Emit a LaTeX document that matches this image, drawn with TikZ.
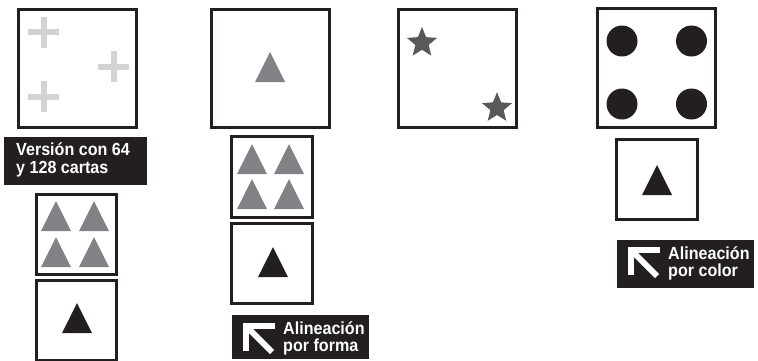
\documentclass[tikz,border=0pt]{standalone}
\usepackage{fontspec}
\newfontfamily\labelfont[FakeStretch=0.92]{Liberation Sans}
\definecolor{ink}{HTML}{231F20}
\definecolor{crossgray}{HTML}{D1D3D4}
\definecolor{trigray}{HTML}{808285}
\definecolor{stargray}{HTML}{58595B}
\tikzset{
  card/.style={draw=ink, line width=2.6pt, rectangle, inner sep=0pt, fill=white},
  bigcard/.style={card, minimum width=118.5pt, minimum height=118.5pt},
  smallcard/.style={card, minimum width=80.5pt, minimum height=80.5pt},
  tagbox/.style={fill=ink, rectangle, inner sep=0pt},
  tagtext/.style={text=white, inner sep=0pt, align=left, anchor=base west},
}
% triangle: #1 colour, (#2,#3) base centre
\newcommand{\mytri}[3]{\fill[#1] (#2-15,#3) -- (#2+15,#3) -- (#2,#3-30) -- cycle;}
\newcommand{\mycross}[2]{%
  \fill[crossgray] (#1-15.5,#2-3) rectangle (#1+15.5,#2+3);
  \fill[crossgray] (#1-3,#2-15.5) rectangle (#1+3,#2+15.5);}
\newcommand{\mystar}[2]{%
  \fill[stargray] (#1,#2) ++(-90:15.8)
    \foreach \k in {1,...,9}{ -- ($(#1,#2)+({-90+36*\k}:{ifthenelse(mod(\k,2)==1,7,15.8)})$) } -- cycle;}
\newcommand{\myarrow}[2]{%
  \fill[white] (#1,#2) rectangle (#1+32,#2+5.5);
  \fill[white] (#1,#2) rectangle (#1+5.5,#2+28);
  \draw[white, line width=6pt] (#1+3,#2+3) -- (#1+29,#2+29);}
\usetikzlibrary{calc}
\begin{document}
\begin{tikzpicture}[x=1pt,y=-1pt]
\clip (0,0) rectangle (758,360);
\fill[white] (0,0) rectangle (758,360);

% column A
\node[bigcard] (a1) at (77.5,68.5) {};
\mycross{43.5}{32}
\mycross{113.5}{66.5}
\mycross{43.5}{96.5}
\node[tagbox, minimum width=143pt, minimum height=48pt] (atag) at (75.5,161) {};
\node[tagtext, font=\labelfont\bfseries\fontsize{17.5}{18}\selectfont] (atagtext) at (16,173) {Versión con 64\\y 128 cartas};
\node[smallcard] (a2) at (76.5,234.5) {};
\mytri{trigray}{56}{231}
\mytri{trigray}{94}{231}
\mytri{trigray}{56}{267}
\mytri{trigray}{94}{267}
\node[smallcard] (a3) at (76.5,320.5) {};
\mytri{ink}{77}{333}

% column B
\node[bigcard] (b1) at (270.5,68.5) {};
\mytri{trigray}{270}{82}
\node[smallcard] (b2) at (272,177) {};
\mytri{trigray}{252}{174}
\mytri{trigray}{289}{174}
\mytri{trigray}{252}{209}
\mytri{trigray}{289}{209}
\node[smallcard] (b3) at (272,263.5) {};
\mytri{ink}{273}{277}
\node[tagbox, minimum width=137pt, minimum height=44pt] (btag) at (300.5,337) {};
\myarrow{243}{323}
\node[tagtext, font=\labelfont\bfseries\fontsize{17.5}{16.5}\selectfont] (btagtext) at (283,351) {Alineación\\por forma};

% column C
\node[bigcard] (c1) at (457.5,68.5) {};
\mystar{422}{42.8}
\mystar{497}{108}

% column D
\node[bigcard] (d1) at (656.5,68) {};
\fill[ink] (622,41) circle (15.5);
\fill[ink] (691.5,41) circle (15.5);
\fill[ink] (622,104) circle (15.5);
\fill[ink] (691.5,104) circle (15.5);
\node[smallcard] (d2) at (657,179.5) {};
\mytri{ink}{657}{195}
\node[tagbox, minimum width=137pt, minimum height=48pt] (dtag) at (685.5,264) {};
\myarrow{628}{247}
\node[tagtext, font=\labelfont\bfseries\fontsize{17.5}{16.5}\selectfont] (dtagtext) at (668,276) {Alineación\\por color};
\end{tikzpicture}
\end{document}
